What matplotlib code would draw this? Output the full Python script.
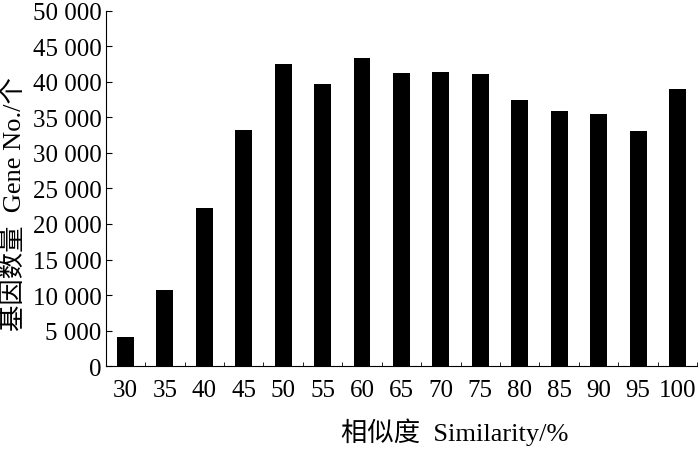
import numpy as np
import matplotlib
matplotlib.use("Agg")
import matplotlib.pyplot as plt
from matplotlib.ticker import FuncFormatter

plt.rcParams['font.family'] = ['Liberation Serif', 'Noto Sans CJK SC']

similarity = ["30", "35", "40", "45", "50", "55", "60", "65", "70", "75",
              "80", "85", "90", "95", "100"]
gene_no = [4100, 10700, 22200, 33200, 42500, 39700, 43400, 41200, 41400,
           41100, 37500, 35900, 35500, 33100, 39000]
y_ticks = list(range(0, 50001, 5000))

fig = plt.figure(figsize=(7.0, 4.56), dpi=100)
ax = fig.add_axes([0.151, 0.195, 0.845, 0.779])

x = np.arange(len(similarity))
ax.bar(x, gene_no, width=0.43, color="black")

ax.set_xlim(-0.5, len(similarity) - 0.5)
ax.set_ylim(0, 50000)
ax.set_xticks(x)
ax.set_xticklabels(similarity)
ax.set_xticks(np.arange(len(similarity) + 1) - 0.5, minor=True)
ax.set_yticks(y_ticks)
ax.yaxis.set_major_formatter(FuncFormatter(lambda v, p: f"{int(v):,}".replace(",", " ")))

ax.spines['top'].set_visible(False)
ax.spines['right'].set_visible(False)
ax.tick_params(axis='y', direction='in', length=4, labelsize=18, pad=3)
ax.tick_params(axis='x', which='major', length=0, labelsize=18, pad=9)
ax.tick_params(axis='x', which='minor', direction='in', length=3)

ax.set_xlabel("相似度  Similarity/%", fontsize=19)
ax.xaxis.set_label_coords(0.59, -0.145)
ax.set_ylabel("基因数量  Gene No./个", fontsize=19)
ax.yaxis.set_label_coords(-0.134, 0.46)

fig.savefig("out.png", dpi=100)
